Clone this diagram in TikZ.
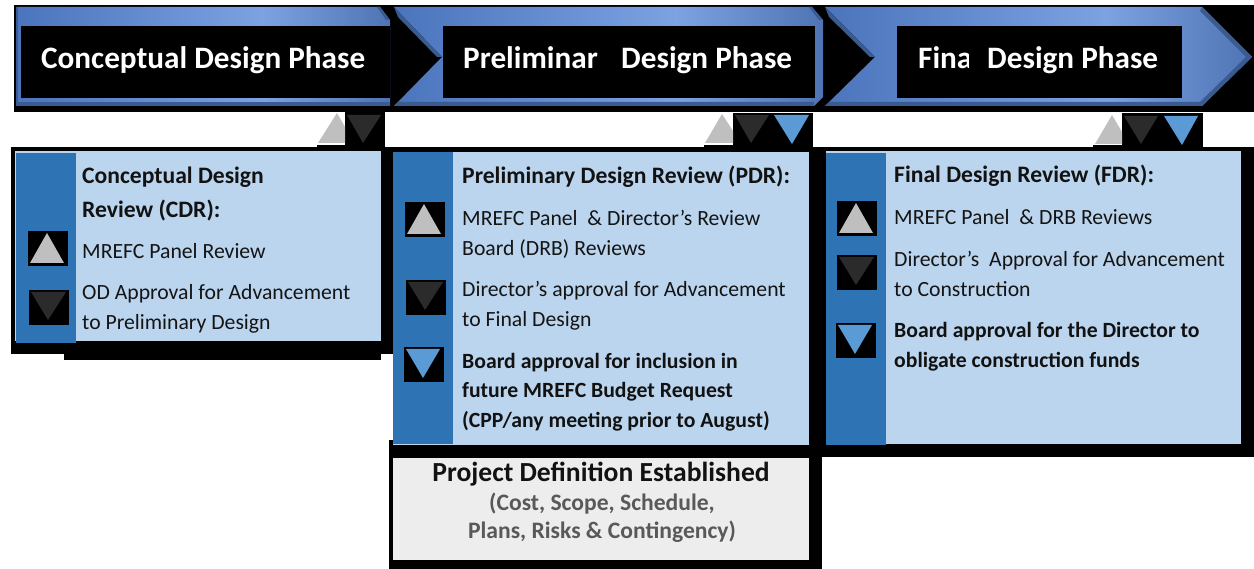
\documentclass[tikz,border=0pt]{standalone}
\usepackage{fontspec}
\setmainfont{Carlito}
\definecolor{chA}{HTML}{4A74BC}
\definecolor{chB}{HTML}{7CA2E2}
\definecolor{chC}{HTML}{4F74B4}
\definecolor{bevD}{HTML}{3A5A92}
\definecolor{panelL}{HTML}{BBD5EE}
\definecolor{panelD}{HTML}{2E74B5}
\definecolor{triG}{HTML}{BFBFBF}
\definecolor{triK}{HTML}{2B2B2B}
\definecolor{triB}{HTML}{5B9BD5}
\definecolor{boxG}{HTML}{EDEDED}
\definecolor{bodyK}{HTML}{141414}
\pgfdeclarehorizontalshading{chevshade}{100bp}{color(0bp)=(chA);color(25bp)=(chA);color(58bp)=(chB);color(75bp)=(chC);color(100bp)=(chC)}
\tikzset{
  chev/.style={shading=chevshade},
  bev/.style={fill=bevD},
  title/.style={anchor=base west,inner sep=0pt,font=\fontsize{31.2}{32}\selectfont\bfseries,text=white},
  head/.style={anchor=base west,inner sep=0pt,font=\fontsize{23.6}{24}\selectfont\bfseries,text=black!93},
  boardtxt/.style={anchor=base west,inner sep=0pt,font=\fontsize{21.7}{22}\selectfont\bfseries,text=black!93},
  body/.style={anchor=base west,inner sep=0pt,font=\fontsize{21.7}{22}\selectfont,text=bodyK},
  subtxt/.style={anchor=base,inner sep=0pt,font=\fontsize{23.6}{24}\selectfont\bfseries,text=black!65},
  tg/.style={fill=triG},
  tk/.style={fill=triK},
  tb/.style={fill=triB}
}
\newcommand{\upT}[2]{\fill[black] (#1,#2) rectangle ++(40,35); \fill[tg] (#1+2,#2+32) -- (#1+19,#2+2) -- (#1+36,#2+32) -- cycle;}
\newcommand{\dnK}[2]{\fill[black] (#1,#2) rectangle ++(40,35); \fill[tk] (#1+2,#2+2) -- (#1+37,#2+2) -- (#1+19,#2+30) -- cycle;}
\newcommand{\dnB}[2]{\fill[black] (#1,#2) rectangle ++(40,35); \fill[tb] (#1+2,#2+2) -- (#1+36,#2+2) -- (#1+19,#2+31) -- cycle;}
\begin{document}
\begin{tikzpicture}[x=1pt,y=-1pt]
\useasboundingbox (0,0) rectangle (1254,569);
\fill[white] (0,0) rectangle (1254,569);
% black backgrounds
\fill[black] (14,5) rectangle (1254,112);
\fill[black] (11,147) rectangle (393,354);
\fill[black] (64,354) rectangle (381,360);
\fill[black] (385,147) rectangle (393,354);
\fill[black] (393,147) rectangle (1254,457);
\fill[black] (389,440) rectangle (822,569);
\fill[black] (345,112) rectangle (385,147);
\fill[black] (733,113) rectangle (813,147);
\fill[black] (1122,113) rectangle (1203,147);
\fill[black] (1093,145) rectangle (1122,147);
\fill[black] (704,145) rectangle (733,147);
\fill[black] (317,145) rectangle (345,147);
% chevrons
\fill[chev] (16,7) -- (380,7) -- (390,20) -- (390,106) -- (16,106) -- cycle;
\fill[chev] (394,7) -- (812,7) -- (823,20) -- (823,97) -- (814,106) -- (394,106) -- (442,57) -- cycle;
\fill[chev] (825,7) -- (1202,7) -- (1252,57) -- (1202,106) -- (825,106) -- (875,57) -- cycle;
% bevels
\fill[bev] (16,102) rectangle (390,106);
\fill[bev] (16,7) rectangle (18,106);
\fill[bev] (380,7) -- (390,20) -- (386,20) -- (377,7) -- cycle;
\fill[bev] (394,7) -- (442,57) -- (437,57) -- (398,17) -- cycle;
\fill[bev] (398,102) -- (814,102) -- (814,106) -- (394,106) -- cycle;
\fill[bev] (812,7) -- (823,20) -- (819,20) -- (809,7) -- cycle;
\fill[bev] (825,7) -- (875,57) -- (870,57) -- (829,17) -- cycle;
\fill[bev] (829,102) -- (1206,102) -- (1202,106) -- (825,106) -- cycle;
\fill[bev] (1202,7) -- (1252,57) -- (1246,57) -- (1200,11) -- cycle;
\fill[bev] (1252,57) -- (1202,106) -- (1199,103) -- (1246,57) -- cycle;
% title boxes
\fill[black] (21,26) rectangle (390,98);
\fill[black] (443,26) rectangle (815,98);
\fill[black] (897,26) rectangle (1182,98);
\node[title] (t1) at (41,69) {Conceptual Design Phase};
\begin{scope}
\clip (443,26) rectangle (600,98);
\node[title] (t2a) at (463,69) {Preliminar};
\end{scope}
\node[title] (t2b) at (621,69) {Design Phase};
\begin{scope}
\clip (897,26) rectangle (968,98);
\node[title] (t3a) at (918,69) {Fina};
\end{scope}
\node[title] (t3b) at (987,69) {Design Phase};
% top triangles
\fill[tg] (318,143) -- (337,113) -- (345,127) -- (345,143) -- cycle;
\fill[tk] (347,115) -- (381,115) -- (363,143) -- cycle;
\fill[tg] (705,143) -- (722,114) -- (733,131) -- (733,143) -- cycle;
\fill[tk] (735,115) -- (769,115) -- (751,143) -- cycle;
\fill[tb] (774,115) -- (809,115) -- (792,144) -- cycle;
\fill[tg] (1095,144) -- (1112,115) -- (1122,132) -- (1122,144) -- cycle;
\fill[tk] (1124,116) -- (1158,116) -- (1141,144) -- cycle;
\fill[tb] (1164,116) -- (1198,116) -- (1182,145) -- cycle;
% panels
\fill[panelL] (15,151) rectangle (381,341);
\fill[panelD] (16,153) rectangle (76,343);
\fill[panelL] (393,152) rectangle (809,445);
\fill[panelD] (393,152) rectangle (453,444);
\fill[boxG] (393,458) rectangle (809,560);
\fill[panelL] (826,151) rectangle (1241,444);
\fill[panelD] (826,153) rectangle (886,445);
% icons
\upT{28}{231}\dnK{29}{290}
\upT{405}{202}\dnK{406}{280}\dnB{404}{347}
\upT{837}{201}\dnK{837}{255}\dnB{836}{323}
% panel 1 text
\node[head] (a1) at (82,184) {Conceptual Design};
\node[head] (a2) at (82,218) {Review (CDR):};
\node[body] (a3) at (82,259) {MREFC Panel Review};
\node[body] (a4) at (82,300) {OD Approval for Advancement};
\node[body] (a5) at (82,330) {to Preliminary Design};
% panel 2 text
\node[head] (b1) at (462,184) {Preliminary Design Review (PDR):};
\node[body] (b2) at (462,226) {MREFC Panel\ \ \& Director’s Review};
\node[body] (b3) at (462,256) {Board (DRB) Reviews};
\node[body] (b4) at (462,297) {Director’s approval for Advancement};
\node[body] (b5) at (462,327) {to Final Design};
\node[boardtxt] (b6) at (462,369) {Board approval for inclusion in};
\node[boardtxt] (b7) at (462,398) {future MREFC Budget Request};
\node[boardtxt] (b8) at (462,428) {(CPP/any meeting prior to August)};
% project definition
\node[anchor=base,inner sep=0pt,font=\fontsize{27.6}{28}\selectfont\bfseries,text=black!93] (p1) at (601,481) {Project Definition Established};
\node[subtxt] (p2) at (602,510) {(Cost, Scope, Schedule,};
\node[subtxt] (p3) at (602,538) {Plans, Risks \& Contingency)};
% panel 3 text
\node[head] (c1) at (894,183) {Final Design Review (FDR):};
\node[body] (c2) at (894,225) {MREFC Panel\ \ \& DRB Reviews};
\node[body] (c3) at (894,267) {Director’s\ \ Approval for Advancement};
\node[body] (c4) at (894,297) {to Construction};
\node[boardtxt] (c5) at (894,338) {Board approval for the Director to};
\node[boardtxt] (c6) at (894,368) {obligate construction funds};
\end{tikzpicture}
\end{document}
